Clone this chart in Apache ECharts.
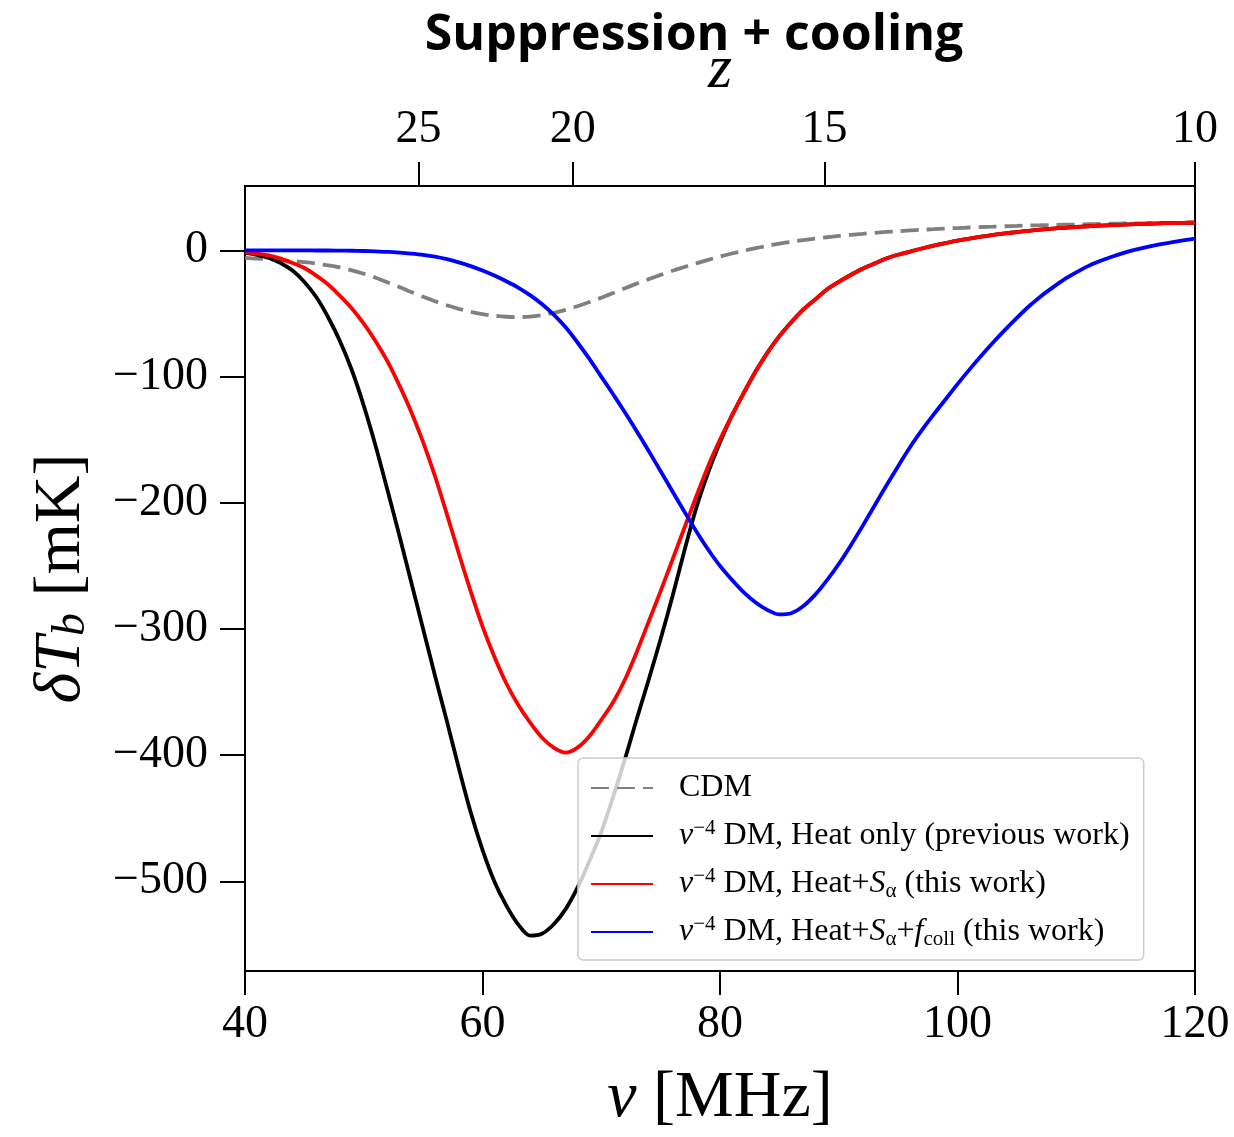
<!DOCTYPE html>
<html>
<head>
<meta charset="utf-8">
<script src="https://cdn.jsdelivr.net/npm/echarts@6/dist/echarts.min.js"></script>
<style>
  html, body { margin: 0; padding: 0; background: #ffffff; }
  #chart { width: 1234px; height: 1137px; }
</style>
</head>
<body>
<div id="chart"></div>
<script>
// Frequency grid, MHz (1 MHz steps)
const freqMHz = [40, 41, 42, 43, 44, 45, 46, 47, 48, 49, 50, 51, 52, 53, 54, 55, 56, 57, 58, 59,
                 60, 61, 62, 63, 64, 65, 66, 67, 68, 69, 70, 71, 72, 73, 74, 75, 76, 77, 78, 79,
                 80, 81, 82, 83, 84, 85, 86, 87, 88, 89, 90, 91, 92, 93, 94, 95, 96, 97, 98, 99,
                 100, 101, 102, 103, 104, 105, 106, 107, 108, 109, 110, 111, 112, 113, 114, 115, 116, 117, 118, 119, 120];

// 21-cm brightness temperature, mK
const cdm = [-6, -6.5, -7, -7.7, -8.5, -9.4, -10.5, -11.9, -13.5, -15.8, -18.5, -21.7, -25.3, -29, -33, -36.8, -40.3, -43.5, -46.3, -48.7,
             -50.5, -51.8, -52.6, -52.9, -52.5, -51.3, -49.5, -47.1, -44.3, -41, -37.5, -33.8, -30, -26.3, -22.8, -19.4, -16.2, -13.2, -10.3, -7.5,
             -4.9, -2.5, -0.3, 1.7, 3.6, 5.3, 6.8, 8.1, 9.3, 10.4, 11.4, 12.3, 13.1, 13.9, 14.6, 15.2, 15.8, 16.3, 16.8, 17.3,
             17.7, 18.1, 18.5, 18.8, 19.1, 19.4, 19.7, 19.9, 20.1, 20.3, 20.5, 20.7, 20.9, 21.1, 21.3, 21.4, 21.5, 21.6, 21.7, 21.85, 22];

const heatOnly = [-2, -3.5, -6, -10, -16, -25, -37, -53, -72, -95, -123, -155, -190, -226, -263, -300, -337, -373, -410, -445,
                  -475, -500, -519, -534, -543, -541.5, -534, -522, -505, -484, -461, -433, -403, -371, -340, -308, -274, -238, -204, -176,
                  -152, -131, -113, -96, -81, -68, -57, -47, -39, -31, -25, -19.5, -14.5, -10.5, -6.5, -3.5, -1, 1.5, 3.8, 5.8,
                  7.7, 9.3, 10.8, 12.2, 13.4, 14.5, 15.5, 16.4, 17.2, 17.9, 18.5, 19.1, 19.6, 20, 20.4, 20.8, 21.1, 21.4, 21.6, 21.8, 22];

const heatSalpha = [-1.5, -2.5, -4, -6.5, -10, -14, -20, -27, -36, -46, -58, -72, -88, -107, -128, -152, -179, -209, -240, -270,
                    -298, -322, -343, -360, -374, -386, -394, -398, -394, -385, -372, -358, -340, -318, -294, -270, -245, -220, -195, -171,
                    -150, -131, -113, -96, -81, -68, -57, -47, -39, -31, -25, -19.5, -14.5, -10.5, -6.5, -3.5, -1, 1.5, 3.8, 5.8,
                    7.7, 9.3, 10.8, 12.2, 13.4, 14.5, 15.5, 16.4, 17.2, 17.9, 18.5, 19.1, 19.6, 20, 20.4, 20.8, 21.1, 21.4, 21.6, 21.8, 22];

const heatSalphaFcoll = [0, 0, 0, 0, 0, 0, -0.1, -0.1, -0.2, -0.3, -0.5, -0.8, -1.2, -1.8, -2.6, -3.6, -5, -7, -9.5, -12.5,
                         -16, -20, -24.5, -29.5, -35.5, -42.5, -51, -61, -73, -86, -100, -114, -128.5, -143.5, -159, -175, -191, -207, -222.5, -237,
                         -250, -261, -271, -279, -285, -288.5, -287.5, -282, -273, -261.5, -248.5, -234, -218.5, -202.5, -186.5, -171, -156, -142.5, -130, -118,
                         -106, -94.5, -83.5, -73, -63, -53.5, -44.5, -36.5, -29.5, -23, -17.5, -12.5, -8.5, -5, -2, 0.6, 2.8, 4.7, 6.3, 7.9, 9.3];

// Axis ticks
const tempTicks = [-500, -400, -300, -200, -100, 0];
const redshiftLabels = ['25', '20', '15', '10'];
const redshiftTickFreq = [54.6, 67.6, 88.8, 120];

const seriesNames = [
  'CDM',
  '{i|v}{sup|−4} DM, Heat only (previous work)',
  '{i|v}{sup|−4} DM, Heat+{i|S}{sub|α} (this work)',
  '{i|v}{sup|−4} DM, Heat+{i|S}{sub|α}+{i|f}{sub|coll} (this work)'
];

const serif = 'Liberation Serif';
const pairs = ys => freqMHz.map((f, i) => [f, ys[i]]);
const minusFmt = v => (v < 0 ? '\u2212' + (-v) : String(v));

const chart = echarts.init(document.getElementById('chart'), null, { renderer: 'canvas' });

const lineSeries = (name, ys, color, type) => ({
  name: name,
  type: 'line',
  xAxisIndex: 0,
  yAxisIndex: 0,
  data: pairs(ys),
  symbol: 'none',
  smooth: 0.3,
  lineStyle: { color: color, width: 3.8, type: type || 'solid' },
  itemStyle: { color: color },
  emphasis: { disabled: true },
  animation: false
});

chart.setOption({
  backgroundColor: '#ffffff',
  animation: false,
  title: {
    text: 'Suppression + cooling',
    left: 689,
    top: 6,
    textAlign: 'center',
    textStyle: { fontFamily: 'Open Sans', fontWeight: 'bold', fontSize: 50, color: '#000000' }
  },
  grid: {
    left: 245, right: 39, top: 186, bottom: 166,
    show: true, borderColor: '#000000', borderWidth: 2, backgroundColor: 'transparent'
  },
  legend: {
    orient: 'vertical',
    left: 578,
    top: 758,
    padding: [12, 14, 10, 12],
    itemGap: 12,
    itemWidth: 62,
    itemHeight: 14,
    backgroundColor: 'rgba(255,255,255,0.8)',
    borderColor: '#cccccc',
    borderWidth: 1.5,
    borderRadius: 5,
    selectedMode: false,
    itemStyle: { opacity: 0 },
    textStyle: {
      fontFamily: serif,
      fontSize: 32,
      color: '#000000',
      lineHeight: 36,
      padding: [0, 0, 0, 21],
      rich: {
        i: { fontFamily: serif, fontStyle: 'italic', fontSize: 32, lineHeight: 36 },
        sup: { fontFamily: serif, fontSize: 21, lineHeight: 22, verticalAlign: 'top' },
        sub: { fontFamily: serif, fontSize: 21, lineHeight: 24, verticalAlign: 'bottom' }
      }
    },
    data: seriesNames
  },
  xAxis: [
    {
      type: 'value',
      position: 'bottom',
      min: 40, max: 120, interval: 20,
      name: '{i|ν} [MHz]',
      nameLocation: 'middle',
      nameGap: 95,
      nameTextStyle: {
        fontFamily: serif, fontSize: 66, color: '#000000',
        rich: { i: { fontFamily: serif, fontStyle: 'italic', fontSize: 66 } }
      },
      axisLine: { show: true, onZero: false, lineStyle: { color: '#000000', width: 2 } },
      axisTick: { show: true, inside: false, length: 24, lineStyle: { color: '#000000', width: 2 } },
      axisLabel: { fontFamily: serif, fontSize: 46, color: '#000000', margin: 31 },
      splitLine: { show: false }
    },
    {
      type: 'value',
      position: 'top',
      min: 40, max: 120,
      name: 'z',
      nameLocation: 'middle',
      nameGap: 72,
      nameTextStyle: { fontFamily: serif, fontStyle: 'italic', fontSize: 62, color: '#000000' },
      axisLine: { show: true, onZero: false, lineStyle: { color: '#000000', width: 2 } },
      axisTick: {
        show: true, inside: false, length: 24,
        customValues: redshiftTickFreq,
        lineStyle: { color: '#000000', width: 2 }
      },
      axisLabel: {
        fontFamily: serif, fontSize: 46, color: '#000000', margin: 33,
        customValues: redshiftTickFreq,
        formatter: v => {
          const k = redshiftTickFreq.findIndex(f => Math.abs(f - v) < 1e-6);
          return k >= 0 ? redshiftLabels[k] : '';
        }
      },
      splitLine: { show: false }
    }
  ],
  yAxis: {
    type: 'value',
    min: -571, max: 51,
    name: '{i|δT}{sub|b} [mK]',
    nameLocation: 'middle',
    nameRotate: 90,
    nameGap: 150,
    nameTextStyle: {
      fontFamily: serif, fontSize: 66, color: '#000000',
      rich: {
        i: { fontFamily: serif, fontStyle: 'italic', fontSize: 66 },
        sub: { fontFamily: serif, fontStyle: 'italic', fontSize: 46, verticalAlign: 'bottom', lineHeight: 60 }
      }
    },
    axisLine: { show: true, onZero: false, lineStyle: { color: '#000000', width: 2 } },
    axisTick: {
      show: true, inside: false, length: 25,
      customValues: tempTicks,
      lineStyle: { color: '#000000', width: 2 }
    },
    axisLabel: {
      fontFamily: serif, fontSize: 46, color: '#000000', margin: 37,
      customValues: tempTicks,
      formatter: minusFmt
    },
    splitLine: { show: false }
  },
  series: [
    lineSeries(seriesNames[0], cdm, '#808080', [18, 8]),
    lineSeries(seriesNames[1], heatOnly, '#000000'),
    lineSeries(seriesNames[2], heatSalpha, '#ff0000'),
    lineSeries(seriesNames[3], heatSalphaFcoll, '#0000ff')
  ]
});
</script>
</body>
</html>
